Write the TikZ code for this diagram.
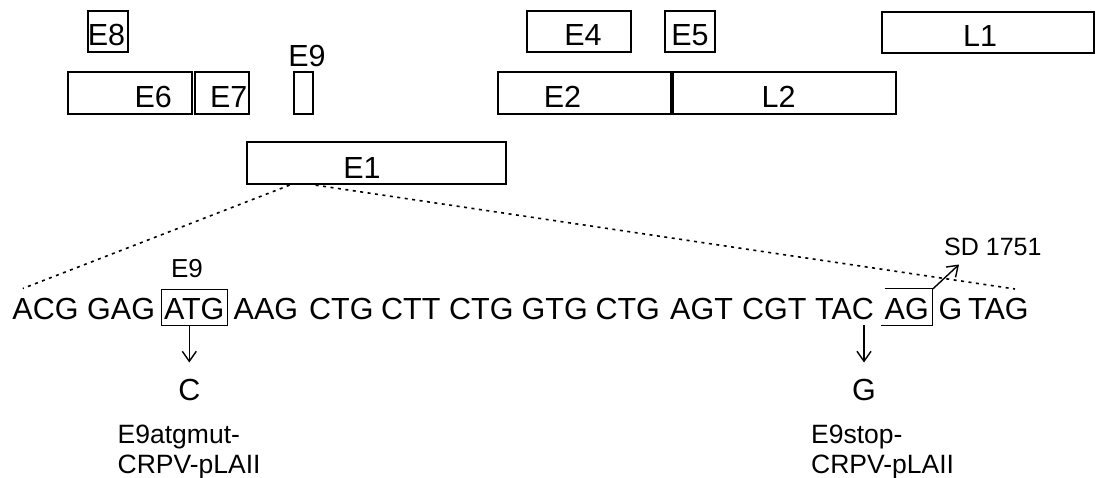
\documentclass[tikz,border=0pt]{standalone}
\usepackage{fontspec}
\setmainfont{Liberation Sans}
\usetikzlibrary{arrows.meta}
\begin{document}
\begin{tikzpicture}[x=1pt,y=-1pt,
  ebox/.style={draw=black, line width=1.9pt, inner sep=0pt},
  big/.style={font=\fontsize{30.5}{36}\selectfont, inner sep=0pt, anchor=base},
  codon/.style={font=\fontsize{30.5}{36}\selectfont, inner xsep=0pt, inner ysep=6pt, text height=24pt, text depth=0pt, anchor=base west},
  small/.style={font=\fontsize{26}{30}\selectfont, inner sep=0pt, anchor=base},
  note/.style={font=\fontsize{26.5}{31}\selectfont, inner sep=0pt, anchor=base west},
  thinbox/.style={line width=1pt},
  arr/.style={line width=1.4pt, -{Straight Barb[length=10pt,width=14pt,line width=1.4pt]}},
  dotl/.style={line width=1.6pt, dash pattern=on 3pt off 4.5pt}]
\useasboundingbox (0,0) rectangle (1096,477);

% gene boxes
\node[ebox, minimum width=39.4pt, minimum height=41.3pt] (E8) at (108,31.65) {};
\node[ebox, minimum width=124.6pt, minimum height=41.7pt] (E6) at (130,93.15) {};
\node[ebox, minimum width=54pt, minimum height=41.7pt] (E7) at (222,93.15) {};
\node[ebox, minimum width=18.8pt, minimum height=41.7pt] (E9) at (303.4,93.15) {};
\node[ebox, minimum width=258.7pt, minimum height=41.8pt] (E1) at (376.65,163.3) {};
\node[ebox, minimum width=104.3pt, minimum height=41.3pt] (E4) at (579.15,31.65) {};
\node[ebox, minimum width=49.9pt, minimum height=41.3pt] (E5) at (689.65,31.65) {};
\node[ebox, minimum width=212.4pt, minimum height=41pt] (L1) at (987.8,32.3) {};
\node[ebox, minimum width=173.7pt, minimum height=41.7pt] (E2) at (584.55,93.15) {};
\node[ebox, minimum width=222.4pt, minimum height=41.7pt] (L2) at (784.5,93.15) {};

% gene labels
\node[big] (tE8) at (106.5,45.5) {E8};
\node[big] (tE6) at (153.3,107.5) {E6};
\node[big] (tE7) at (228.7,107.5) {E7};
\node[big] (tE9) at (307,66.3) {E9};
\node[big] (tE1) at (362,178.5) {E1};
\node[big] (tE4) at (583,45) {E4};
\node[big] (tE5) at (690,45) {E5};
\node[big] (tL1) at (980,46) {L1};
\node[big] (tE2) at (562.5,107.5) {E2};
\node[big] (tL2) at (778.6,107.5) {L2};

% sequence
\node[codon] (c1) at (12.3,319) {ACG};
\node[codon] (c2) at (87,319) {GAG};
\node[codon, draw, thinbox, inner xsep=3pt] (c3) at (160.5,319) {ATG};
\node[codon] (c4) at (233.5,319) {AAG};
\node[codon] (c5) at (309,319) {CTG};
\node[codon] (c6) at (381,319) {CTT};
\node[codon] (c7) at (449,319) {CTG};
\node[codon] (c8) at (521.5,319) {GTG};
\node[codon] (c9) at (595.3,319) {CTG};
\node[codon] (c10) at (670,319) {AGT};
\node[codon] (c11) at (742,319) {CGT};
\node[codon] (c12) at (815,319) {TAC};
\node[codon, inner xsep=4pt] (c13) at (880.5,319) {AG};
\node[codon] (c14) at (938.3,319) {G};
\node[codon] (c15) at (968,319) {TAG};
\draw[thinbox] ([xshift=4pt]c13.north west) -- (c13.north east) -- (c13.south east) -- (c13.south west);

% small labels
\node[small] (sE9) at (187,277) {E9};
\node[small, anchor=base west, font=\fontsize{25}{29}\selectfont] (SD) at (944,255) {SD 1751};
\coordinate (sdtip) at (959,264.5);
\draw[arr] (c13.north east) -- (sdtip);

% mutations
\node[big] (C) at (189.3,400) {C};
\node[big] (G) at (864,400) {G};
\draw[arr, shorten >=16pt] (C.north |- c3.south) -- (C.north);
\draw[arr, shorten >=16pt] (G.north |- c13.south) -- (G.north);

\node[note] (m1a) at (117.5,443.3) {E9atgmut-};
\node[note] (m1b) at (117.5,473.3) {CRPV-pLAII};
\node[note] (m2a) at (811,443) {E9stop-};
\node[note] (m2b) at (811,473) {CRPV-pLAII};

% zoom lines
\coordinate (e1l) at ([xshift=43.2pt]E1.south west);
\coordinate (e1r) at ([xshift=69.3pt]E1.south west);
\coordinate (dl) at (22.8,288.5);
\coordinate (dr) at (1015,289);
\draw[dotl] (e1l) -- (dl);
\draw[dotl] (e1r) -- (dr);
\end{tikzpicture}
\end{document}
